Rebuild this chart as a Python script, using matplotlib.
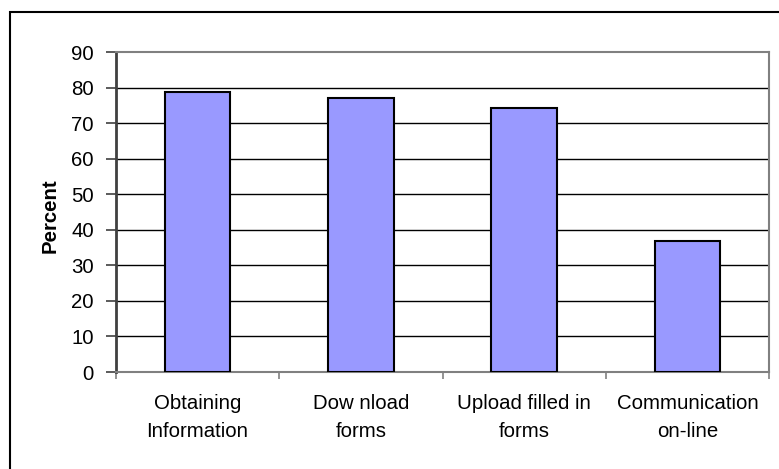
import matplotlib
matplotlib.use("Agg")
import numpy as np
from matplotlib import pyplot as plt
from matplotlib.patches import Rectangle

plt.rcParams["font.family"] = ["Liberation Sans", "DejaVu Sans"]
plt.rcParams["savefig.dpi"] = 100

categories = ["Obtaining\nInformation", "Dow nload\nforms", "Upload filled in\nforms", "Communication\non-line"]
percent = [78.7, 77.0, 74.2, 36.9]
yticks = list(range(0, 100, 10))

W, H = 779, 469
fig = plt.figure(figsize=(W / 100, H / 100))
ax = fig.add_axes([116 / W, 1 - 372 / H, (769 - 116) / W, (372 - 52) / H])

x = np.arange(len(categories))
ax.bar(x, percent, width=0.4, color="#9999FF", edgecolor="black", linewidth=1.5, zorder=3)

# horizontal gridlines, black like the old spreadsheet style
for v in yticks[1:-1]:
    ax.axhline(v, color="black", linewidth=1.0, zorder=1)

ax.set_xlim(-0.5, len(categories) - 0.5)
ax.set_ylim(0, 90)
ax.set_yticks(yticks)
ax.set_xticks(x)
ax.set_xticklabels(categories, fontsize=14.7, linespacing=1.6)
ax.tick_params(axis="x", length=0, pad=16)
ax.set_xticks(np.arange(len(categories) + 1) - 0.5, minor=True)
ax.tick_params(axis="x", which="minor", length=5, width=1.2, color="#808080", direction="out")
ax.tick_params(axis="y", labelsize=14.7, length=7, width=1.2, color="#404040", pad=9)

for side in ["top", "right", "bottom"]:
    ax.spines[side].set_color("#808080")
    ax.spines[side].set_linewidth(1.5)
ax.spines["left"].set_color("#404040")
ax.spines["left"].set_linewidth(2)

fig.text(50 / W, 1 - 216 / H, "Percent", rotation=90, fontsize=14.7, fontweight="bold",
         ha="center", va="center")

# outer chart frame
fig.patches.append(Rectangle((10 / W, -0.1), 1.2, 1 - 12 / H + 0.1, transform=fig.transFigure,
                             fill=False, edgecolor="black", linewidth=1.5))

plt.savefig("out.png", dpi=100)
